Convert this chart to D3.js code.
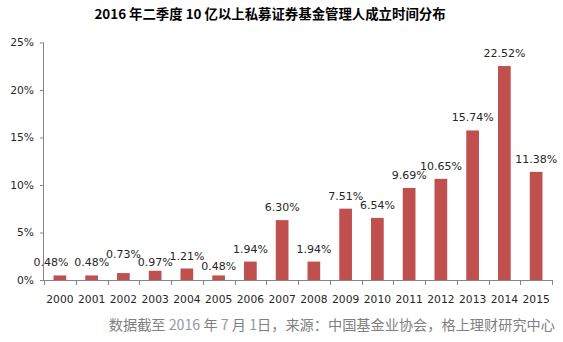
<!DOCTYPE html>
<html><head><meta charset="utf-8">
<script src="https://cdn.jsdelivr.net/npm/d3@7"></script>
<style>
html,body{margin:0;padding:0;background:#fff;}
svg{display:block;}
</style></head>
<body>
<svg id="chart" width="563" height="342"></svg>
<script>
const years = ["2000","2001","2002","2003","2004","2005","2006","2007","2008","2009","2010","2011","2012","2013","2014","2015"];
const shares = [0.48,0.48,0.73,0.97,1.21,0.48,1.94,6.30,1.94,7.51,6.54,9.69,10.65,15.74,22.52,11.38];
const yTicks = [0,5,10,15,20,25];
const titleText = "2016 年二季度 10 亿以上私募证券基金管理人成立时间分布";
const sourceParts = [["数据截至 ",false],["2016",true],[" 年 ",false],["7",true],[" 月 ",false],["1",true],["日，来源：中国基金业协会，格上理财研究中心",false]];

(function(){
const svg = d3.select("#chart");
const pL = 44, pR = 552, pT = 42.5, pB = 280;
const x = d3.scaleBand().domain(years).range([pL, pR]).padding(0);
const y = d3.scaleLinear().domain([0, 25]).range([pB, pT]);
const labelFont = "'DejaVu Sans', Verdana, sans-serif";
const textColor = "#262626";
const axisColor = "#868686";

// title
svg.append("text").attr("x", 270).attr("y", 19).attr("text-anchor", "middle")
  .attr("font-family", "'Noto Sans CJK SC', sans-serif").attr("font-weight", "bold")
  .attr("font-size", 13.4).attr("fill", "#000").text(titleText);

// y axis
const yAxis = svg.append("g").attr("transform", `translate(${pL},0)`)
  .call(d3.axisLeft(y).tickValues(yTicks).tickFormat(d => d + "%").tickSize(4).tickPadding(6));
yAxis.select(".domain").attr("stroke", axisColor).attr("d", `M-0.5,${pT}V${pB}`);
yAxis.selectAll(".tick line").attr("stroke", axisColor);
yAxis.selectAll(".tick text").attr("font-family", labelFont).attr("font-size", 10.7).attr("fill", textColor);

// x axis
const xAxis = svg.append("g").attr("transform", `translate(0,${pB})`)
  .call(d3.axisBottom(x).tickSize(0).tickPadding(15));
xAxis.select(".domain").attr("stroke", axisColor).attr("d", `M${pL},0.5H${pR}`);
xAxis.selectAll(".tick text").attr("font-family", labelFont).attr("font-size", 10.7).attr("fill", textColor);
const bounds = years.map(d => x(d)).concat([x(years[years.length-1]) + x.bandwidth()]);
xAxis.selectAll(".bt").data(bounds).enter().append("line")
  .attr("x1", d => Math.round(d) + 0.5).attr("x2", d => Math.round(d) + 0.5)
  .attr("y1", 0).attr("y2", 5).attr("stroke", axisColor);

// bars
const bw = x.bandwidth() * 0.4;
svg.append("g").selectAll("rect").data(years).enter().append("rect")
  .attr("x", (d) => x(d) + (x.bandwidth() - bw) / 2)
  .attr("width", bw)
  .attr("y", (d, i) => y(shares[i]))
  .attr("height", (d, i) => pB - y(shares[i]))
  .attr("fill", "#C0504D");

// labels (with Excel-style manual nudges for crowded small bars)
const nudgeY = {"2002": -6, "2003": 4, "2005": 4};
const nudgeX = {"2000": -9};
svg.append("g").selectAll("text").data(years).enter().append("text")
  .attr("x", d => x(d) + x.bandwidth() / 2 + (nudgeX[d] || 0))
  .attr("y", (d, i) => y(shares[i]) - 9 + (nudgeY[d] || 0))
  .attr("text-anchor", "middle")
  .attr("font-family", labelFont).attr("font-size", 11).attr("fill", textColor)
  .text((d, i) => shares[i].toFixed(2) + "%");

// source
const src = svg.append("text").attr("x", 555).attr("y", 330).attr("text-anchor", "end")
  .attr("font-family", "'Noto Sans CJK SC', sans-serif").attr("font-size", 14.2).attr("fill", "#808080");
sourceParts.forEach(p => src.append("tspan").attr("fill", p[1] ? "#8c99ab" : "#808080").text(p[0]));
})();
</script>
</body></html>
